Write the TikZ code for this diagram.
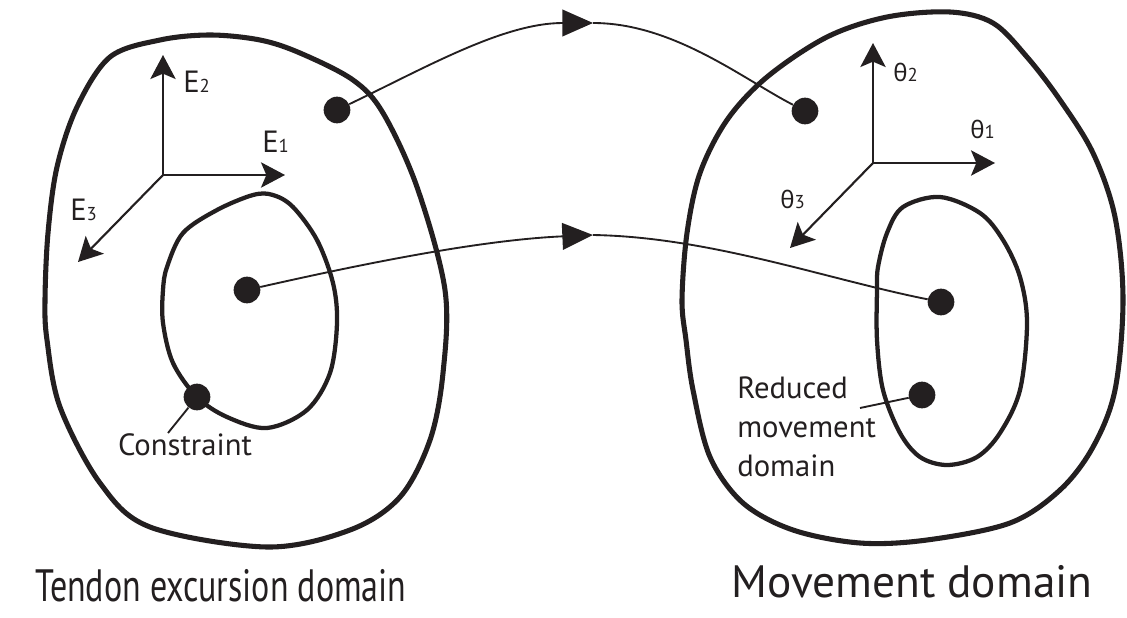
\documentclass[tikz,border=0pt]{standalone}
\usepackage{fontspec}
\setmainfont{PT Sans}
\newfontfamily\grk{Noto Sans}
\newfontfamily\titlefont[FakeStretch=0.75]{PT Sans}
\usetikzlibrary{arrows.meta, calc, positioning}
\definecolor{ink}{RGB}{35,31,32}
\newcommand{\idx}[1]{{\fontsize{14}{14}\selectfont #1}}
\tikzset{
    blobline/.style = {draw=ink, line width=3.8pt, line join=round},
    innerline/.style = {draw=ink, line width=3.2pt, line join=round},
    dotnode/.style = {fill=ink, circle, minimum size=20pt, inner sep=0pt},
    axisline/.style = {draw=ink, line width=1.6pt, -{Stealth[length=18pt, width=19pt, inset=4pt]}},
    connect/.style = {draw=ink, line width=1.4pt},
    midarrow/.style = {connect, -{Triangle[length=23pt, width=20pt]}},
    textnode/.style = {inner sep=0pt, text=ink, font=\fontsize{23}{29}\selectfont, align=left},
    axislabel/.style = {inner sep=0pt, text=ink, font=\fontsize{23}{25}\selectfont},
    greeklabel/.style = {inner sep=0pt, text=ink, font=\fontsize{18}{20}\selectfont},
    titlenode/.style = {inner sep=0pt, text=ink, font=\titlefont\fontsize{34}{36}\selectfont},
    widetitle/.style = {inner sep=0pt, text=ink, font=\fontsize{34}{36}\selectfont}
}

\begin{document}
\begin{tikzpicture}[x=0.75pt, y=-0.75pt]
    \useasboundingbox (0,0) rectangle (1127,617);

    % tendon excursion domain
    \draw[blobline] plot[smooth cycle, tension=0.55] coordinates {(45,300) (48,233) (57,167)
        (77,107) (110,57) (160,40) (210,35) (260,40) (300,53) (353,80) (383,113) (417,187)
        (445,290) (443,373) (430,440) (400,497) (350,530) (267,547) (150,527) (100,483)
        (60,407) (47,340)};
    \draw[innerline] plot[smooth cycle, tension=0.55] coordinates {(253,195) (273,195)
        (293,207) (317,240) (333,283) (337,323) (330,373) (307,410) (267,428) (227,417)
        (197,397) (173,363) (163,323) (163,290) (167,267) (183,233) (217,210)};

    % movement domain
    \draw[blobline] plot[smooth cycle, tension=0.55] coordinates {(682,300) (687,233)
        (700,173) (727,120) (767,77) (827,37) (887,17) (950,12) (993,23) (1027,57)
        (1060,100) (1093,153) (1115,217) (1123,300) (1115,390) (1093,447) (1060,490)
        (1010,523) (927,540) (860,543) (793,530) (743,503) (710,457) (693,390) (686,340)};
    \draw[innerline] plot[smooth cycle, tension=0.55] coordinates {(940,197) (980,213)
        (1003,240) (1020,277) (1027,323) (1020,390) (1000,433) (977,457) (947,465)
        (920,457) (900,433) (883,390) (877,340) (877,290) (878,267) (887,233) (903,207)};

    \node [name=tedA, dotnode] at (337,110) {};
    \node [name=tedB, dotnode] at (247,290) {};
    \node [name=tedC, dotnode] at (197,397) {};
    \node [name=movA, dotnode] at (805,111) {};
    \node [name=movB, dotnode] at (941,302) {};
    \node [name=movC, dotnode] at (922,395) {};

    % axes
    \coordinate (eO) at (163,175);
    \coordinate (eOne) at (285,175);
    \coordinate (eTwo) at (163,55);
    \coordinate (eThree) at (78,262);
    \draw[axisline] (eO) -- (eOne);
    \draw[axisline] (eO) -- (eTwo);
    \draw[axisline] (eO) -- (eThree);
    \node [name=lblEOne, axislabel, anchor=base west] at (262,152) {E\idx{1}};
    \node [name=lblETwo, axislabel, anchor=base west] at (183,93) {E\idx{2}};
    \node [name=lblEThree, axislabel, anchor=base west] at (70,220) {E\idx{3}};

    \coordinate (tO) at (873,163);
    \coordinate (tOne) at (995,163);
    \coordinate (tTwo) at (873,43);
    \coordinate (tThree) at (790,248);
    \draw[axisline] (tO) -- (tOne);
    \draw[axisline] (tO) -- (tTwo);
    \draw[axisline] (tO) -- (tThree);
    \node [name=lblTOne, greeklabel, anchor=base west] at (970,138) {{\grk θ}\idx{1}};
    \node [name=lblTTwo, greeklabel, anchor=base west] at (893,82) {{\grk θ}\idx{2}};
    \node [name=lblTThree, greeklabel, anchor=base west] at (780,208) {{\grk θ}\idx{3}};

    % mappings
    \coordinate (tipA) at (593,23);
    \coordinate (tipB) at (593,235);
    \draw[midarrow] (tedA) .. controls (425,68) and (503,23) .. (tipA);
    \draw[connect] (tipA) .. controls (673,23) and (743,79) .. (movA);
    \draw[midarrow] (tedB) .. controls (362,264) and (480,240) .. (tipB);
    \draw[connect] (tipB) .. controls (710,237) and (826,279) .. (movB);

    % labels
    \node [name=conlabel, textnode, anchor=base] at (185,455) {Constraint};
    \coordinate (conend) at (168,433);
    \draw[connect] (conend) -- (tedC);
    \node [name=redlabel, textnode, anchor=north west] at (737,377) {Reduced\\movement\\domain};
    \coordinate (redend) at (860,408);
    \draw[connect] (redend) -- (movC);

    \node [name=tendontitle, titlenode, anchor=base] at (221,601) {Tendon excursion domain};
    \node [name=movetitle, widetitle, anchor=base] at (912,597) {Movement domain};
\end{tikzpicture}
\end{document}
